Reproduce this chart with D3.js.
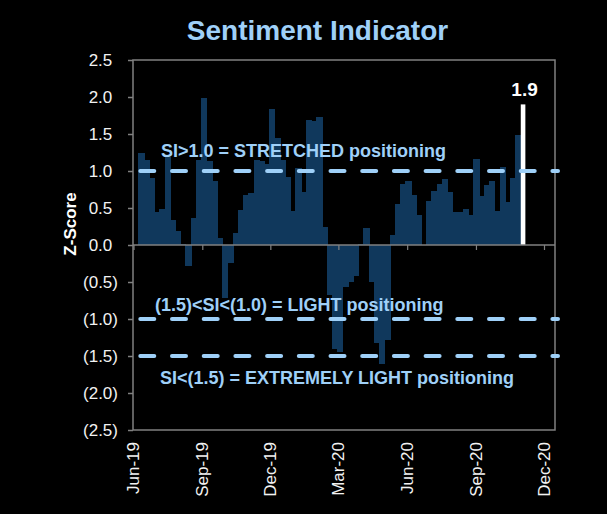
<!DOCTYPE html>
<html>
<head>
<meta charset="utf-8">
<script src="https://cdn.jsdelivr.net/npm/d3@7"></script>
<style>
  html, body { margin: 0; padding: 0; background: #000; }
  svg { display: block; }
  text { font-family: "Liberation Sans", Arial, sans-serif; }
</style>
</head>
<body>
<svg id="chart" width="607" height="514"></svg>
<script>
// ---------- DATA ----------
const title = "Sentiment Indicator";
const yAxisTitle = "Z-Score";
const firstWeek = Date.UTC(2019, 5, 11);          // first weekly observation
const zScores = [
  1.25, 1.15, 0.91, 0.45, 0.49, 1.19, 0.34, 0.19, 0.02, -0.29,
  0.37, 1.15, 1.99, 1.13, 0.87, 0.09, -0.72, -0.24, 0.16, 0.47,
  0.68, 0.70, 1.15, 1.13, 1.09, 1.84, 1.45, 1.15, 0.92, 0.46,
  1.04, 0.72, 1.69, 1.68, 1.73, 0.25, -0.68, -1.40, -1.45, -0.57,
  -0.50, -0.42, 0.02, 0.23, -0.50, -1.33, -1.61, -1.28, 0.13, 0.56,
  0.83, 0.86, 0.68, 0.40, 0.00, 0.59, 0.73, 0.82, 0.89, 0.71,
  0.44, 0.45, 0.49, 0.40, 1.16, 0.66, 0.81, 0.86, 0.46, 1.05,
  0.58, 0.91, 1.49, 1.90
];
const yTicks = [2.5, 2.0, 1.5, 1.0, 0.5, 0.0, -0.5, -1.0, -1.5, -2.0, -2.5];
const xTickDates = [
  Date.UTC(2019, 5, 1), Date.UTC(2019, 8, 1), Date.UTC(2019, 11, 1),
  Date.UTC(2020, 2, 1), Date.UTC(2020, 5, 1), Date.UTC(2020, 8, 1),
  Date.UTC(2020, 11, 1)
];
const thresholds = [1.0, -1.0, -1.5];
const thresholdLabels = [
  "SI>1.0 = STRETCHED positioning",
  "(1.5)<SI<(1.0) = LIGHT positioning",
  "SI<(1.5) = EXTREMELY LIGHT positioning"
];

// ---------- LAYOUT ----------
const svg = d3.select("#chart");
const plot = { left: 133, right: 555, top: 60, bottom: 430 };
const barColor = "#10385c";
const lightBlue = "#9fd0f8";
const axisGray = "#808080";

const weeks = zScores.map((v, i) => new Date(firstWeek + i * 7 * 864e5));

const x = d3.scaleUtc()
  .domain([new Date(xTickDates[0]), new Date(xTickDates[xTickDates.length - 1])])
  .range([133.5, 544]);
const y = d3.scaleLinear().domain([-2.5, 2.5]).range([plot.bottom, plot.top]);

const weekPx = x(new Date(firstWeek + 7 * 864e5)) - x(new Date(firstWeek));

// ---------- BARS ----------
const last = zScores.length - 1;
svg.append("g").attr("shape-rendering", "crispEdges").selectAll("rect")
  .data(zScores.slice(0, last))
  .join("rect")
  .attr("x", (d, i) => x(weeks[i]) - weekPx / 2)
  .attr("width", weekPx + 1)
  .attr("y", d => y(Math.max(0, d)))
  .attr("height", d => Math.abs(y(d) - y(0)))
  .attr("fill", barColor);

// latest observation highlighted in white
svg.append("rect")
  .attr("x", x(weeks[last]) - 2.3)
  .attr("width", 4.6)
  .attr("y", y(Math.max(0, zScores[last])))
  .attr("height", Math.abs(y(zScores[last]) - y(0)))
  .attr("fill", "#ffffff");

svg.append("text")
  .attr("x", x(weeks[last]) + 1.5)
  .attr("y", y(zScores[last]) - 8)
  .attr("text-anchor", "middle")
  .attr("font-size", 19)
  .attr("font-weight", "bold")
  .attr("fill", "#ffffff")
  .text(d3.format(".1f")(zScores[last]));

// ---------- FRAME / AXES ----------
const frame = svg.append("g").attr("stroke", axisGray).attr("stroke-width", 1.5).attr("fill", "none");
frame.append("rect")
  .attr("x", plot.left).attr("y", plot.top)
  .attr("width", plot.right - plot.left).attr("height", plot.bottom - plot.top);

// zero line with date ticks
const xAxis = d3.axisBottom(x)
  .tickValues(xTickDates.map(d => new Date(d)))
  .tickSize(5)
  .tickFormat("");
const gx = svg.append("g").attr("transform", `translate(0,${y(0)})`).call(xAxis);
gx.select(".domain").remove();
gx.selectAll(".tick line").attr("stroke", axisGray).attr("stroke-width", 1.2);
svg.append("line")
  .attr("x1", plot.left).attr("x2", plot.right)
  .attr("y1", y(0)).attr("y2", y(0))
  .attr("stroke", axisGray).attr("stroke-width", 1.5);

// y axis
const yAxis = d3.axisLeft(y).tickValues(yTicks).tickSize(5).tickFormat("");
const gy = svg.append("g").attr("transform", `translate(${plot.left},0)`).call(yAxis);
gy.select(".domain").remove();
gy.selectAll(".tick line").attr("stroke", axisGray).attr("stroke-width", 1.5);

const fmt = d3.format(".1f");
svg.append("g").selectAll("text")
  .data(yTicks)
  .join("text")
  .attr("x", d => d < 0 ? 118 : 112.3)
  .attr("y", d => y(d))
  .attr("dy", "0.35em")
  .attr("text-anchor", "end")
  .attr("font-size", 17)
  .attr("fill", "#f2f2f2")
  .text(d => d < 0 ? `(${fmt(-d)})` : fmt(d));

// x labels (rotated)
svg.append("g").selectAll("text")
  .data(xTickDates)
  .join("text")
  .attr("transform", d => `translate(${x(new Date(d))},442) rotate(-90)`)
  .attr("dy", "0.35em")
  .attr("text-anchor", "end")
  .attr("font-size", 17)
  .attr("fill", "#f2f2f2")
  .text(d => d3.utcFormat("%b-%y")(new Date(d)));

// y axis title
svg.append("text")
  .attr("transform", "translate(70.5,224) rotate(-90)")
  .attr("dy", "0.35em")
  .attr("text-anchor", "middle")
  .attr("font-size", 17)
  .attr("font-weight", "bold")
  .attr("fill", "#ffffff")
  .text(yAxisTitle);

// ---------- THRESHOLD LINES ----------
svg.append("g").selectAll("line")
  .data(thresholds)
  .join("line")
  .attr("x1", 140.3).attr("x2", 558)
  .attr("y1", d => y(d)).attr("y2", d => y(d))
  .attr("stroke", lightBlue)
  .attr("stroke-width", 4)
  .attr("stroke-linecap", "round")
  .attr("stroke-dasharray", "14,17.7");

const labelPos = [[161, 156.5], [155, 310.5], [160, 383.5]];
svg.append("g").selectAll("text")
  .data(thresholdLabels)
  .join("text")
  .attr("x", (d, i) => labelPos[i][0])
  .attr("y", (d, i) => labelPos[i][1])
  .attr("font-size", 18)
  .attr("font-weight", "bold")
  .attr("fill", lightBlue)
  .text(d => d);

// ---------- TITLE ----------
svg.append("text")
  .attr("x", 317.5).attr("y", 40)
  .attr("text-anchor", "middle")
  .attr("font-size", 28)
  .attr("font-weight", "bold")
  .attr("fill", lightBlue)
  .text(title);
</script>
</body>
</html>
